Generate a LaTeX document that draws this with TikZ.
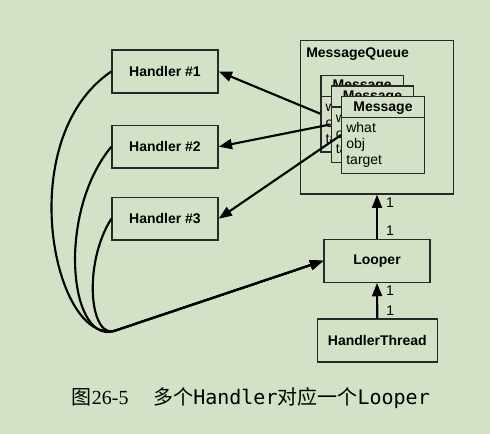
\documentclass[tikz,border=0pt]{standalone}
\usepackage{fontspec}
\setmainfont{Liberation Sans}
\setsansfont{Liberation Sans}
\setmonofont{DejaVu Sans Mono}
\newfontfamily\cjkfont{Noto Sans CJK SC}
\newfontfamily\numfont{Liberation Serif}
\usetikzlibrary{arrows.meta,calc}
\definecolor{paper}{RGB}{211,226,198}
\definecolor{ink}{RGB}{40,40,40}
\tikzset{
  box/.style={draw=ink, line width=1pt, fill=paper, inner sep=0pt, font=\fontsize{10.5}{12}\selectfont\bfseries},
  link/.style={black, line width=1.6pt, line join=round, -{Triangle[length=10pt,width=7.5pt]}},
  mult/.style={font=\fontsize{10.5}{12}\selectfont, inner sep=0pt, anchor=west, xshift=6pt},
  field/.style={font=\fontsize{10.5}{12}\selectfont, inner sep=0pt, anchor=base west},
}
% one Message card: name, centre
\newcommand{\msgbox}[2]{%
  \node [box, minimum width=61.9pt, minimum height=57.4pt] (#1) at (#2) {};
  \draw [ink, line width=1pt] ($(#1.north west)+(0,21.6)$) -- ($(#1.north east)+(0,21.6)$);
  \node [field, anchor=base, font=\fontsize{10.5}{12}\selectfont\bfseries] at ($(#1.north)+(0,15)$) {Message};
  \node [field] at ($(#1.north west)+(5,36.6)$) {what};
  \node [field] at ($(#1.north west)+(5,52.6)$) {obj};
  \node [field] at ($(#1.north west)+(5,68.3)$) {target};
}
\begin{document}
\begin{tikzpicture}[x=0.75pt, y=-0.75pt]
      \fill [paper] (0,0) rectangle (490,434);
      %
      \node [box, minimum width=79.5pt, minimum height=32.2pt] (h1) at (165, 71.5) {Handler \#1};
      \node [box, minimum width=79.5pt, minimum height=32.2pt] (h2) at (165, 146.7) {Handler \#2};
      \node [box, minimum width=79.5pt, minimum height=32.2pt] (h3) at (165, 218.7) {Handler \#3};
      %
      \node [box, minimum width=114.5pt, minimum height=115pt] (mq) at (377, 117.3) {};
      \node [field, font=\fontsize{10.5}{12}\selectfont\bfseries] (mqlabel) at ($(mq.north west)+(6,17.6)$) {MessageQueue};
      \msgbox{m1}{362.2, 113.7}
      \msgbox{m2}{372.5, 124.4}
      \msgbox{m3}{383, 135}
      %
      \node [box, minimum width=79.5pt, minimum height=32.2pt] (looper) at (377, 260.8) {Looper};
      \node [box, minimum width=90pt, minimum height=32.2pt] (thread) at (377.3, 340.5) {HandlerThread};
      %
      \draw [link] (m1.west) -- (h1.east);
      \draw [link] (m2.west) -- (h2.east);
      \draw [link] (m3.west) -- (h3.east);
      %
      \draw [link] (looper.north) -- (mq.south) node [mult, pos=0.19] {1} node [mult, pos=0.81] {1};
      \draw [link] (thread.north) -- (looper.south) node [mult, pos=0.23] {1} node [mult, pos=0.79] {1};
      %
      \coordinate (merge) at (117, 330);
      \draw [link] (h1.west) .. controls (10, 140) and (55, 350) .. (merge) -- (looper.west);
      \draw [link] (h2.west) .. controls (55, 215) and (70, 350) .. (merge) -- (looper.west);
      \draw [link] (h3.west) .. controls (82, 265) and (90, 343) .. (merge) -- (looper.west);
      %
      \node [inner sep=0pt, anchor=base west, font=\fontsize{15}{17}\selectfont] (fignum) at (71.7, 405) {{\cjkfont 图}{\numfont 26-5}};
      \node [inner sep=0pt, anchor=base west, font=\fontsize{15}{17}\selectfont] (figtitle) at (153, 405) {{\cjkfont 多个}\texttt{Handler}{\cjkfont 对应一个}\texttt{Looper}};
\end{tikzpicture}
\end{document}
